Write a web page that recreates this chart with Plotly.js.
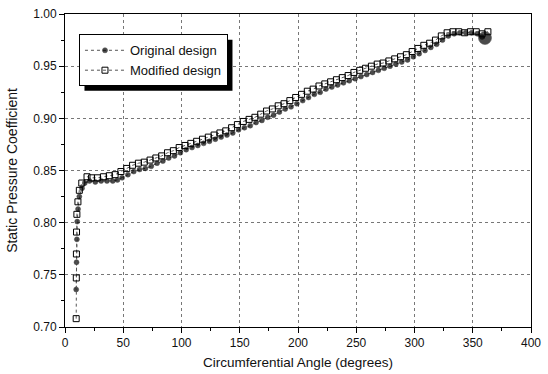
<!DOCTYPE html>
<html>
<head>
<meta charset="utf-8">
<script src="https://cdn.plot.ly/plotly-3.0.1.min.js"></script>
<style>html,body{margin:0;padding:0;background:#fff;}#chart{width:548px;height:374px;}</style>
</head>
<body>
<div id="chart"></div>
<script>
// Original design
var origAngle = [9.6, 9.9, 10.2, 10.5, 11.2, 12.3, 14.6, 17, 21, 26, 31, 36, 41, 45, 49,
  54, 59, 64, 69, 74, 79, 84, 89, 94, 99, 104, 109, 114, 119, 124, 129, 134, 139, 144, 149,
  154, 159, 164, 169, 174, 179, 184, 189, 194, 199, 204, 209, 214, 219, 224, 229, 234, 239, 244, 249,
  254, 259, 264, 269, 274, 279, 284, 289, 294, 299, 304, 309, 314, 319, 324, 329, 334, 339, 344, 349,
  354, 358, 360.5];
var origCp = [0.736, 0.762, 0.784, 0.801, 0.813, 0.825, 0.833, 0.838, 0.840, 0.839, 0.840, 0.840, 0.840, 0.841, 0.843,
  0.846, 0.849, 0.851, 0.852, 0.854, 0.857, 0.859, 0.862, 0.864, 0.867, 0.870, 0.872, 0.874, 0.876, 0.878,
  0.880, 0.882, 0.884, 0.886, 0.889, 0.891, 0.893, 0.896, 0.898, 0.901, 0.903, 0.906, 0.909, 0.911, 0.914,
  0.917, 0.920, 0.923, 0.925, 0.928, 0.930, 0.932, 0.934, 0.936, 0.938, 0.940, 0.942, 0.944, 0.946, 0.948,
  0.950, 0.952, 0.954, 0.956, 0.959, 0.962, 0.965, 0.968, 0.971, 0.975, 0.979, 0.981, 0.982, 0.982, 0.982,
  0.981, 0.978, 0.977];

// Modified design
var modAngle = [9.6, 9.7, 9.8, 9.9, 10.2, 11.1, 12.3, 14.4, 18.9, 22.8, 27.8, 33, 38, 43,
  48, 53, 58, 63, 68, 73, 78, 83, 88, 93, 98, 103, 108, 113, 118, 123, 128, 133, 138, 143,
  148, 153, 158, 163, 168, 173, 178, 183, 188, 193, 198, 203, 208, 213, 218, 223, 228, 233, 238, 243,
  248, 253, 258, 263, 268, 273, 278, 283, 288, 293, 298, 303, 308, 313, 318, 323, 328, 333, 338, 343,
  348, 353, 358, 363];
var modCp = [0.708, 0.747, 0.770, 0.791, 0.808, 0.820, 0.831, 0.838, 0.844, 0.843, 0.843, 0.844, 0.845, 0.846,
  0.849, 0.852, 0.855, 0.857, 0.858, 0.860, 0.862, 0.864, 0.867, 0.869, 0.872, 0.874, 0.876, 0.878, 0.880,
  0.882, 0.884, 0.886, 0.888, 0.891, 0.894, 0.897, 0.899, 0.901, 0.904, 0.907, 0.909, 0.912, 0.914, 0.917,
  0.920, 0.923, 0.926, 0.928, 0.931, 0.933, 0.935, 0.937, 0.939, 0.941, 0.944, 0.946, 0.948, 0.950, 0.952,
  0.953, 0.955, 0.957, 0.959, 0.961, 0.964, 0.967, 0.970, 0.972, 0.975, 0.979, 0.982, 0.983, 0.983, 0.982,
  0.983, 0.983, 0.981, 0.983];

var seriesNames = ['Original design', 'Modified design'];
var xTicks = [0, 50, 100, 150, 200, 250, 300, 350, 400];
var yTicks = [0.70, 0.75, 0.80, 0.85, 0.90, 0.95, 1.00];
var yTickText = ['0.70', '0.75', '0.80', '0.85', '0.90', '0.95', '1.00'];

var origSizes = origAngle.map(function (a, i) { return i === origAngle.length - 1 ? 13 : 5; });

var traces = [
  {
    x: origAngle, y: origCp, name: seriesNames[0], type: 'scatter', mode: 'lines+markers',
    line: {color: '#555', width: 1, dash: 'dot'},
    marker: {symbol: 'circle', size: origSizes, color: '#000', line: {color: '#000', width: 0.5}}
  },
  {
    x: modAngle, y: modCp, name: seriesNames[1], type: 'scatter', mode: 'lines+markers',
    line: {color: '#555', width: 1, dash: 'dot'},
    marker: {symbol: 'square-open', size: 6, color: '#000', line: {color: '#000', width: 1}}
  }
];

var fontFam = '"Liberation Sans", Arial, sans-serif';
var ML = 65, MR = 17, MT = 14, MB = 47, W = 548, H = 374;

var layout = {
  width: W, height: H,
  margin: {l: ML, r: MR, t: MT, b: MB},
  paper_bgcolor: '#fff', plot_bgcolor: '#fff',
  font: {family: fontFam, color: '#111', size: 12},
  showlegend: true,
  legend: {
    x: 0.03, y: 0.935, xanchor: 'left', yanchor: 'top',
    bgcolor: '#fff', bordercolor: '#000', borderwidth: 1,
    font: {family: fontFam, size: 13, color: '#111'},
    tracegroupgap: 0, itemwidth: 40
  },
  xaxis: {
    range: [0, 400], tickvals: xTicks, ticks: 'outside', ticklen: 5, tickcolor: '#000',
    showline: true, linecolor: '#000', linewidth: 1, mirror: true,
    showgrid: true, gridcolor: '#777', griddash: 'dot', gridwidth: 1,
    zeroline: false, tickfont: {size: 12},
    minor: {dtick: 25, ticks: 'outside', ticklen: 3, tickcolor: '#000', showgrid: false},
    title: {text: 'Circumferential Angle (degrees)', font: {size: 13.5}, standoff: 8}
  },
  yaxis: {
    range: [0.70, 1.00], tickvals: yTicks, ticktext: yTickText, ticks: 'outside', ticklen: 5, tickcolor: '#000',
    showline: true, linecolor: '#000', linewidth: 1, mirror: true,
    showgrid: true, gridcolor: '#777', griddash: 'dot', gridwidth: 1,
    zeroline: false, tickfont: {size: 12},
    minor: {dtick: 0.025, ticks: 'outside', ticklen: 3, tickcolor: '#000', showgrid: false},
    title: {text: 'Static Pressure Coefficient', font: {size: 14}, standoff: 12}
  }
};

var gd = document.getElementById('chart');
Plotly.newPlot(gd, traces, layout, {displayModeBar: false, staticPlot: true}).then(function () {
  var bg = gd.querySelector('.legend .bg');
  if (!bg) return;
  var bb = bg.getBoundingClientRect();
  var cr = gd.getBoundingClientRect();
  var pw = W - ML - MR, ph = H - MT - MB;
  var off = 5;
  var left = bb.left - cr.left + off, right = bb.right - cr.left + off;
  var top = bb.top - cr.top + off, bottom = bb.bottom - cr.top + off;
  var shadow = {
    type: 'rect', xref: 'paper', yref: 'paper', layer: 'above',
    x0: (left - ML) / pw, x1: (right - ML) / pw,
    y0: 1 - (bottom - MT) / ph, y1: 1 - (top - MT) / ph,
    fillcolor: '#000', line: {width: 0}
  };
  return Plotly.relayout(gd, {shapes: [shadow]});
});
</script>
</body>
</html>
